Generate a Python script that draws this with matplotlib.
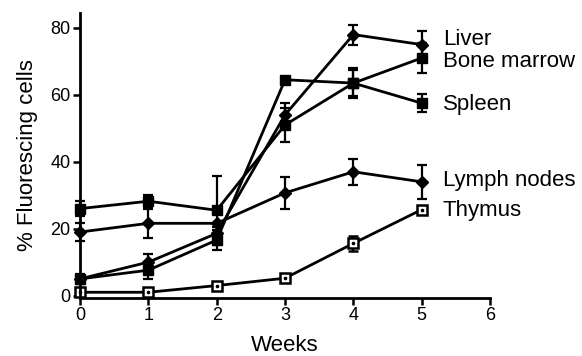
import matplotlib
matplotlib.use("Agg")
import matplotlib.pyplot as plt
import numpy as np

plt.rcParams["font.family"] = ["Liberation Sans", "DejaVu Sans"]

weeks = [0, 1, 2, 3, 4, 5]

liver = [5, 10, 18.6, 54, 78, 75]
liver_err = [1, 2.5, 2, 3.5, 3, 4]

bone_marrow = [5, 7.6, 16.6, 64.5, 63.5, 71]
bone_marrow_err = [1.5, 2.5, 3, 0, 4.5, 4.5]

spleen = [26, 28.2, 25.5, 51, 63.5, 57.5]
spleen_err = [2.3, 2, 10.3, 5, 4, 2.7]

lymph_nodes = [19, 21.6, 21.6, 30.7, 37, 34]
lymph_nodes_err = [2.7, 4.3, 0, 4.7, 3.9, 5]

thymus = [1, 1, 3, 5.2, 15.6, 25.7]
thymus_err = [0, 0, 0, 0, 2.2, 0]

labels = ["Liver", "Bone marrow", "Spleen", "Lymph nodes", "Thymus"]
label_y = [76.5, 70, 57, 34.5, 25.5]


def err(values):
    # zero means no bar was measured for that week
    return [np.nan if v == 0 else v for v in values]


fig = plt.figure(figsize=(5.82, 3.56), dpi=100)
ax = fig.add_axes([0.1375, 0.164, 0.7045, 0.80])

common = dict(color="black", lw=2, capsize=3.5, elinewidth=1.6,
              capthick=1.6, clip_on=False)

ax.errorbar(weeks, liver, yerr=err(liver_err), marker="D", ms=6, **common)
ax.errorbar(weeks, bone_marrow, yerr=err(bone_marrow_err), marker="s", ms=6.5, **common)
ax.errorbar(weeks, spleen, yerr=err(spleen_err), marker="s", ms=6.5, **common)
ax.errorbar(weeks, lymph_nodes, yerr=err(lymph_nodes_err), marker="D", ms=6, **common)
ax.errorbar(weeks, thymus, yerr=err(thymus_err), marker="s", ms=6.5,
            mfc="white", mec="black", mew=1.8, **common)
ax.plot(weeks, thymus, ls="none", marker="o", ms=1.6, color="black", clip_on=False, zorder=5)

for text, y in zip(labels, label_y):
    ax.text(5.31, y, text, fontsize=16, va="center", ha="left")

ax.set_xlim(0, 6)
ax.set_ylim(-0.6, 84.5)
ax.set_xticks(range(7))
ax.set_yticks([0, 20, 40, 60, 80])
ax.spines["top"].set_visible(False)
ax.spines["right"].set_visible(False)
for side in ("left", "bottom"):
    ax.spines[side].set_linewidth(2)
ax.tick_params(direction="out", length=5, width=1.8, labelsize=13, pad=2)
ax.set_xlabel("Weeks", fontsize=16, labelpad=8)
ax.set_ylabel("% Fluorescing cells", fontsize=16, labelpad=9)

fig.savefig("out.png", dpi=100)
